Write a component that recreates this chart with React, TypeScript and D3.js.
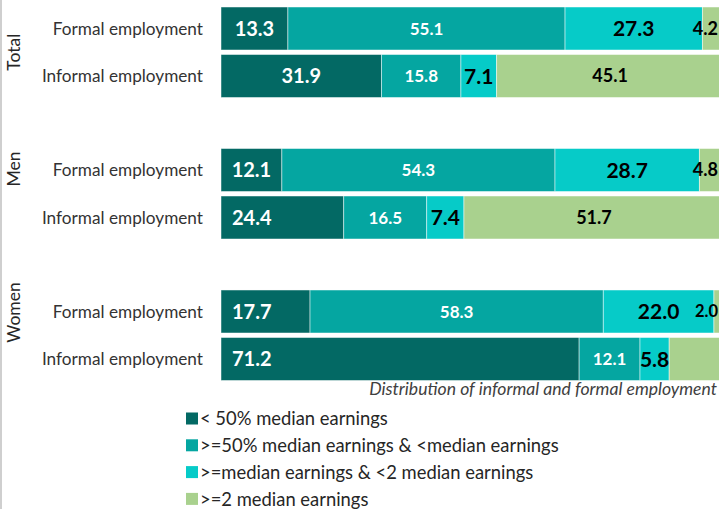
import React from "react";
import * as d3 from "d3";

const groups = ["Total", "Men", "Women"];
const rows = ["Formal employment", "Informal employment"];
const seriesNames = [
  "< 50% median earnings",
  ">=50% median earnings & <median earnings",
  ">=median earnings & <2 median earnings",
  ">=2 median earnings",
];
// values per bar (group x row), per series
const lowValues = [13.3, 31.9, 12.1, 24.4, 17.7, 71.2];
const midValues = [55.1, 15.8, 54.3, 16.5, 58.3, 12.1];
const upperValues = [27.3, 7.1, 28.7, 7.4, 22.0, 5.8];
const highValues = [4.2, 45.1, 4.8, 51.7, 2.0, 10.9];
const highLabelShown = [true, true, true, true, true, false];
const subtitle = "Distribution of informal and formal employment";

const colors = ["#036964", "#05a6a1", "#06cbc8", "#a9d18e"];
const labelColors = ["#ffffff", "#ffffff", "#000000", "#000000"];
const labelSizes = [20, 17, 21, 18];
const lowLabelAtStart = [false, false, false, true, true, true];

const W = 719;
const H = 509;
const FONT = "Lato, 'Open Sans', sans-serif";

export default function App() {
  const x = d3.scaleLinear().domain([0, 100]).range([221, 724]);
  const gScale = d3.scaleBand<string>().domain(groups).range([7, 380.5]).paddingInner(0.3604).paddingOuter(0);
  const rScale = d3.scaleBand<string>().domain(rows).range([0, gScale.bandwidth()]).paddingInner(0.0947).paddingOuter(0);

  const bars = groups.flatMap((g, gi) =>
    rows.map((r, ri) => {
      const i = gi * 2 + ri;
      const vals = [lowValues[i], midValues[i], upperValues[i], highValues[i]];
      const stack = d3.cumsum(vals);
      return { g, r, i, y: (gScale(g) ?? 0) + (rScale(r) ?? 0), vals, stack };
    })
  );
  const bh = rScale.bandwidth();
  const groupLabelY = [
    (gScale("Total") ?? 0) + gScale.bandwidth() / 2,
    (gScale("Men") ?? 0) + bh / 2 - 1,
    (gScale("Women") ?? 0) + bh / 2 + 1,
  ];

  return (
    <div style={{ position: "fixed", left: 0, top: 0, width: W, height: H, background: "#fff" }}>
      <svg width={W} height={H} style={{ display: "block", fontFamily: FONT }}>
        <rect width={W} height={H} fill="#fff" />
        <line x1={1} x2={1} y1={0} y2={H} stroke="#bfbfbf" strokeWidth={1.5} />
        {groups.map((g, gi) => (
          <text
            key={g}
            transform={`translate(20,${groupLabelY[gi]}) rotate(-90)`}
            textAnchor="middle"
            fontSize={17.5}
            fill="#262626"
          >
            {g}
          </text>
        ))}
        {bars.map((b) => (
          <g key={b.i}>
            <text x={203} y={b.y + bh / 2} dy="0.35em" textAnchor="end" fontSize={17.2} fill="#333">
              {b.r}
            </text>
            {b.vals.map((v, si) => {
              const x0 = x(si === 0 ? 0 : b.stack[si - 1]);
              const x1 = x(b.stack[si]);
              return (
                <rect
                  key={si}
                  x={x0}
                  y={b.y}
                  width={x1 - x0}
                  height={bh}
                  fill={colors[si]}
                  stroke="#ffffff"
                  strokeWidth={0.8}
                  strokeOpacity={0.6}
                />
              );
            })}
            {b.vals.map((v, si) => {
              if (si === 3 && !highLabelShown[b.i]) return null;
              const x0 = x(si === 0 ? 0 : b.stack[si - 1]);
              const x1 = x(b.stack[si]);
              let cx = (x0 + x1) / 2;
              let anchor: "middle" | "start" | "end" = "middle";
              if (si === 0 && lowLabelAtStart[b.i]) {
                cx = x0 + 11;
                anchor = "start";
              }
              let size = labelSizes[si];
              if (cx > 690) {
                cx = 718;
                anchor = "end";
                size = v < 3 ? 16.5 : 18;
              }
              return (
                <text
                  key={"l" + si}
                  x={cx}
                  y={b.y + bh / 2}
                  dy="0.36em"
                  textAnchor={anchor}
                  fontSize={size}
                  fontWeight={700}
                  fill={labelColors[si]}
                >
                  {v.toFixed(1)}
                </text>
              );
            })}
          </g>
        ))}
        <text x={717} y={395} textAnchor="end" fontSize={17.6} fontStyle="italic" fill="#404040">
          {subtitle}
        </text>
        {seriesNames.map((s, si) => {
          const cy = 418.5 + si * 26.8;
          return (
            <g key={s}>
              <rect x={186} y={cy - 6} width={12} height={12} fill={colors[si]} />
              <text x={200} y={cy} dy="0.36em" fontSize={18.4} fill="#262626">
                {s}
              </text>
            </g>
          );
        })}
      </svg>
    </div>
  );
}
